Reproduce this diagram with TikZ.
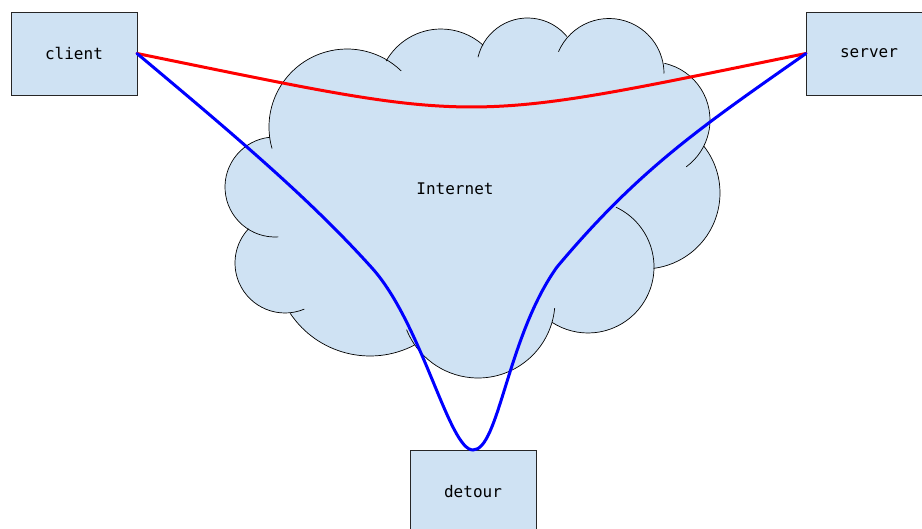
\documentclass[tikz,border=0pt]{standalone}
\usepackage{fontspec}
\newfontfamily\labelfont{DejaVu Sans Mono}
\definecolor{paleblue}{HTML}{CFE2F3}
\begin{document}
\begin{tikzpicture}[x=1pt,y=1pt,
  box/.style={draw=black!85, line width=0.8pt, fill=paleblue,
    minimum width=126pt, minimum height=83pt, inner sep=0pt, outer sep=0pt,
    font=\labelfont\fontsize{16}{19}\selectfont},
  cloudfill/.style={fill=paleblue, draw=none},
  cloudline/.style={draw=black, line width=0.7pt},
  redpath/.style={draw=red, line width=3pt, line cap=round},
  bluepath/.style={draw=blue, line width=3pt, line cap=round}]
\clip (0,0) rectangle (922,-529);
\fill[white] (0,0) rectangle (922,-529);

% cloud body: lobes given as centre x / centre y / radius / arc start / arc end
\def\lobes{347/-127/78/196/46, 441/-92/63/150.6/48, 527.6/-69/51/166.6/39.6,
  609/-73.5/55/156.7/0, 652/-120/58/77.6/-53.8, 644/-193/76/38.2/-82.8,
  588/-267/66/64.9/-122.8, 478/-301/77/-5.3/-158.1, 370/-260/96/-62.4/-146.2,
  285/-263/50/-67.2/-223.2, 275/-187/50/-86.2/-264.1}
\foreach \cx/\cy/\r/\a/\b in \lobes {
  \fill[cloudfill] (\cx,\cy) circle[radius=\r pt];
}
\fill[cloudfill] (347,-127) -- (441,-92) -- (527.6,-69) -- (609,-73.5) -- (652,-120)
  -- (644,-193) -- (588,-267) -- (478,-301) -- (370,-260) -- (285,-263) -- (275,-187) -- cycle;
\foreach \cx/\cy/\r/\a/\b in \lobes {
  \draw[cloudline] (\cx,\cy) ++(\a:\r pt) arc[start angle=\a, end angle=\b, radius=\r pt];
}
\node[font=\labelfont\fontsize{16}{19}\selectfont] (internet) at (455,-189) {Internet};

% hosts
\node[box] (client) at (74,-53.5) {client};
\node[box] (server) at (869,-53.5) {server};
\node[box] (detour) at (473,-491.5) {detour};

% direct route
\draw[redpath] (client.east) .. controls (487,-124.8) and (456,-124.8) .. (server.west);

% route through the detour host
\coordinate (descend) at (372,-268);
\coordinate (ascend) at (557,-267);
\draw[bluepath] (client.east)
  .. controls +(-40:124.7) and +(132:95) .. (descend)
  .. controls +(-48:75) and +(-24,0) .. (detour.north)
  .. controls +(26,0) and +(-50,-70) .. (ascend)
  .. controls +(50:128) and +(215:128) .. (server.west);
\end{tikzpicture}
\end{document}
